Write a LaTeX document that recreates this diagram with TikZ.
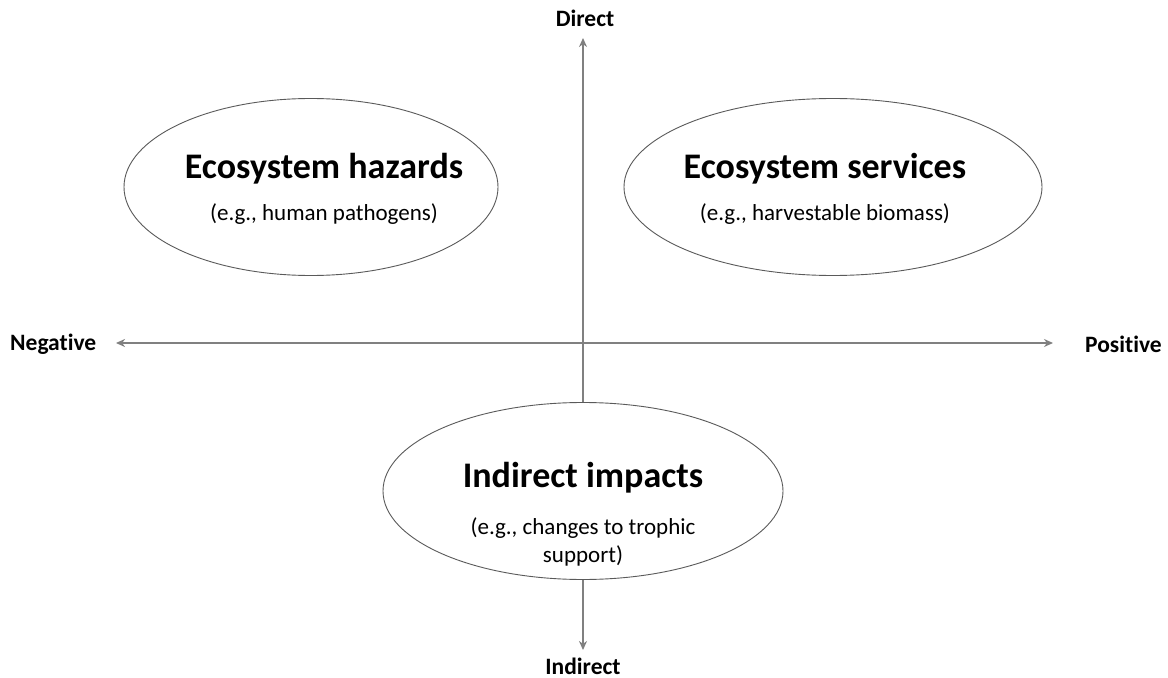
\documentclass[tikz,border=0pt]{standalone}
\usepackage{fontspec}
\setmainfont{Carlito}[Ligatures=NoCommon]
\usetikzlibrary{arrows.meta,shapes.geometric}
\definecolor{axisgray}{RGB}{128,128,128}
\definecolor{ringgray}{RGB}{90,90,90}
\begin{document}
\begin{tikzpicture}[x=1bp,y=-1bp,
  axis/.style={draw=axisgray, line width=2bp, {Stealth[length=9bp,width=8bp]}-{Stealth[length=9bp,width=8bp]}},
  ring/.style={ellipse, draw=ringgray, line width=0.9bp, fill=white, inner sep=0pt},
  axlbl/.style={font=\fontsize{23.5bp}{28bp}\selectfont\bfseries, inner sep=0pt},
  ttl/.style={font=\fontsize{36bp}{43bp}\selectfont\bfseries, inner sep=0pt},
  sub/.style={font=\fontsize{23bp}{27.5bp}\selectfont, inner sep=0pt, align=center}]
\useasboundingbox[fill=white] (0,0) rectangle (1168,678);
% axis ends
\coordinate (ttip) at (583,38);
\coordinate (btip) at (583,650);
\coordinate (ltip) at (116,343);
\coordinate (rtip) at (1053,343);
\draw[axis] (ltip) -- (rtip);
\draw[axis] (btip) -- (ttip);
% axis labels
\node[axlbl] (direct) at (585,18) {Direct};
\node[axlbl, anchor=base] (indirect) at (583,674) {Indirect};
\node[axlbl, anchor=west] (neg) at (10,344) {Negative};
\node[axlbl, anchor=west] (pos) at (1085,344) {Positive};
% ellipses
\node[ring, minimum width=374bp, minimum height=177bp] (haz) at (311,187) {};
\node[ring, minimum width=418bp, minimum height=177bp] (ser) at (833,187) {};
\node[ring, minimum width=400bp, minimum height=177bp] (ind) at (583,491) {};
% texts
\node[ttl] (hazt) at (324,169) {Ecosystem hazards};
\node[sub] (hazs) at (324,214) {(e.g., human pathogens)};
\node[ttl] (sert) at (825,169) {Ecosystem services};
\node[sub] (sers) at (825,214) {(e.g., harvestable biomass)};
\node[ttl] (indt) at (583,478) {Indirect impacts};
\node[sub] (inds) at (583,542) {(e.g., changes to trophic\\support)};
\end{tikzpicture}
\end{document}
